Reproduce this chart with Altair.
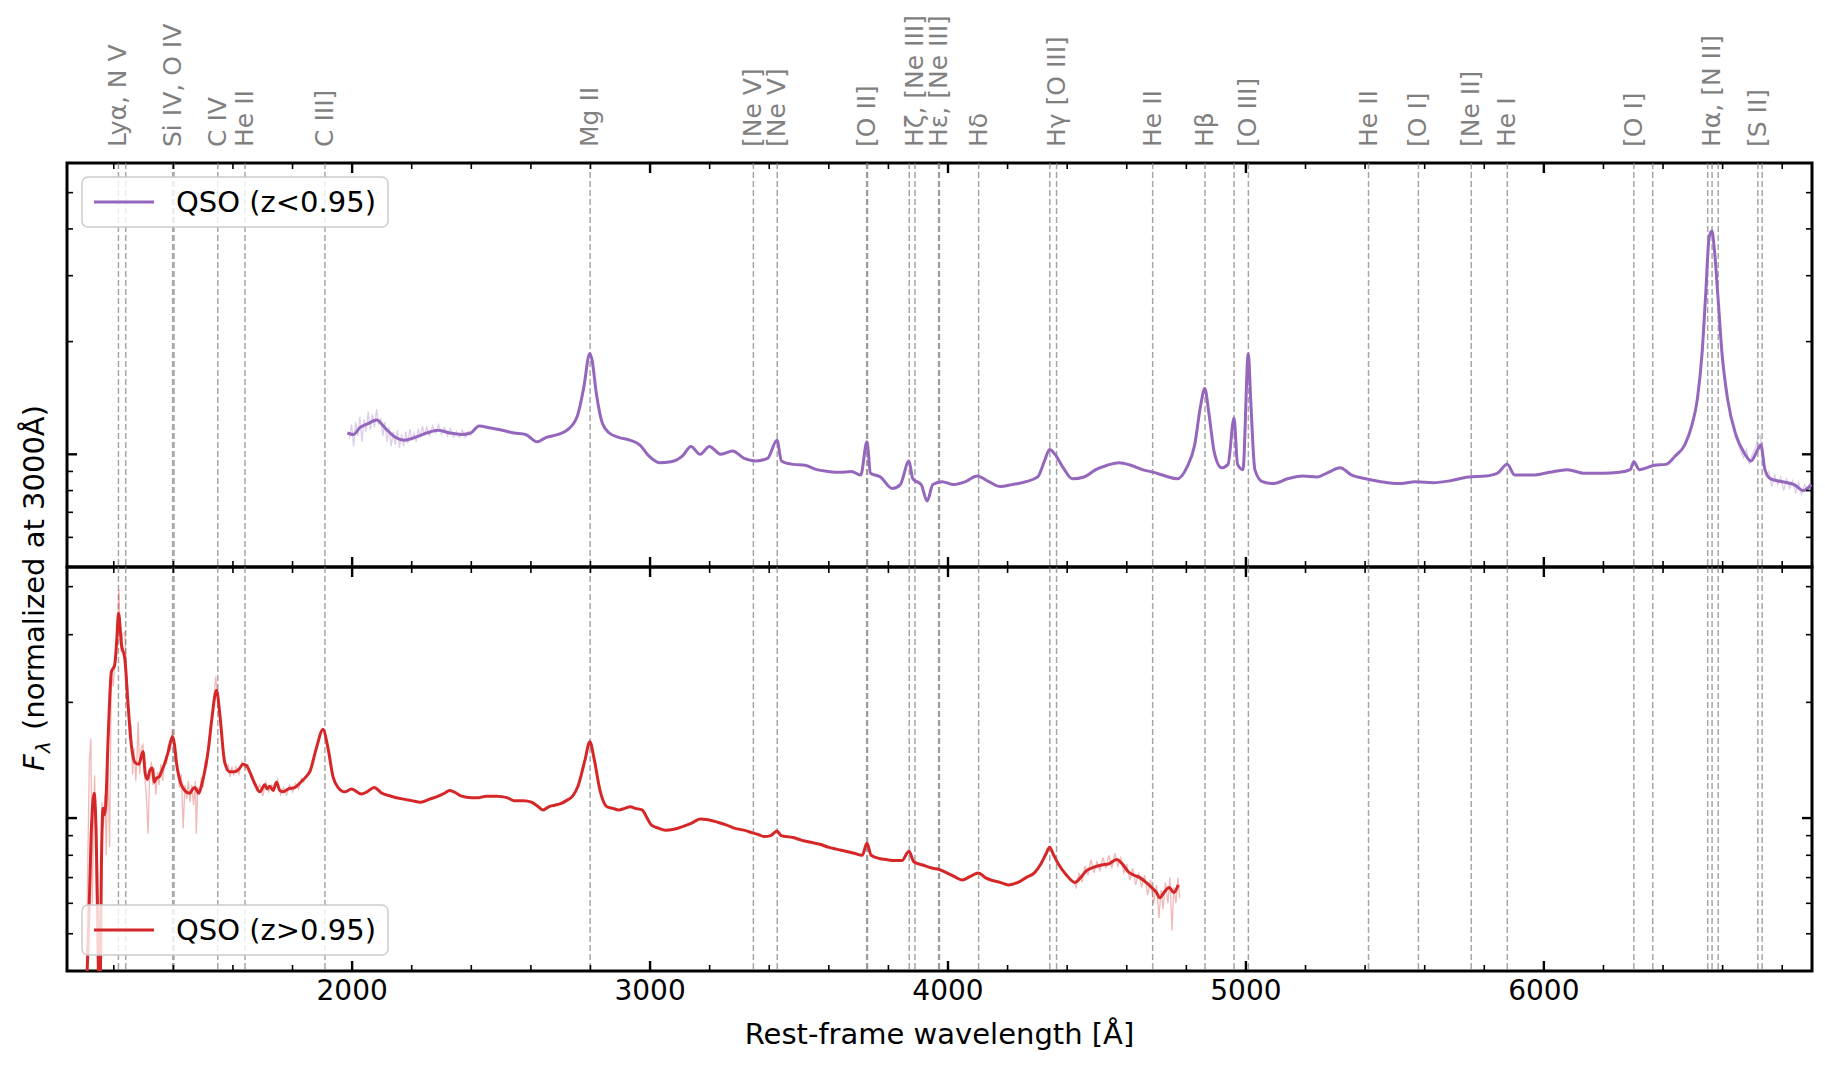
import altair as alt
import pandas as pd

# ---------------- data ----------------
# upper panel: QSO (z<0.95), smoothed spectrum
top_w = [1984, 2004, 2027, 2055, 2082, 2113, 2145, 2176, 2211, 2250,
         2289, 2328, 2367, 2398, 2426, 2465, 2504, 2543, 2582, 2621,
         2652, 2691, 2730, 2758, 2777, 2798, 2805, 2820, 2840, 2863,
         2895, 2934, 2965, 2996, 3031, 3070, 3109, 3137, 3168, 3199,
         3238, 3277, 3316, 3355, 3394, 3426, 3441, 3480, 3520, 3559,
         3598, 3637, 3676, 3707, 3728, 3740, 3773, 3813, 3840, 3869,
         3882, 3910, 3930, 3949, 3980, 4019, 4059, 4098, 4137, 4176,
         4215, 4262, 4301, 4324, 4341, 4359, 4387, 4418, 4457, 4496,
         4535, 4574, 4613, 4652, 4691, 4730, 4769, 4801, 4828, 4848,
         4862, 4875, 4894, 4918, 4940, 4960, 4972, 4990, 5008, 5016,
         5030, 5055, 5090, 5140, 5191, 5238, 5277, 5316, 5355, 5402,
         5453, 5512, 5570, 5629, 5687, 5746, 5805, 5844, 5877, 5902,
         5961, 6019, 6078, 6137, 6195, 6254, 6290, 6302, 6320, 6371,
         6410, 6441, 6473, 6496, 6515, 6531, 6543, 6555, 6564, 6572,
         6584, 6598, 6617, 6644, 6672, 6695, 6718, 6728, 6742, 6761,
         6800, 6840, 6871, 6898]
top_f = [1.14, 1.13, 1.18, 1.21, 1.235, 1.17, 1.11, 1.09, 1.11, 1.14,
         1.16, 1.14, 1.13, 1.14, 1.19, 1.175, 1.16, 1.14, 1.13, 1.08,
         1.11, 1.13, 1.175, 1.28, 1.50, 1.86, 1.79, 1.45, 1.21, 1.14,
         1.11, 1.09, 1.06, 0.99, 0.95, 0.955, 0.99, 1.05, 1.00, 1.05,
         1.00, 1.02, 0.975, 0.96, 0.975, 1.09, 0.96, 0.94, 0.935, 0.91,
         0.90, 0.895, 0.90, 0.88, 1.08, 0.89, 0.87, 0.81, 0.83, 0.96,
         0.86, 0.83, 0.75, 0.83, 0.845, 0.83, 0.845, 0.875, 0.845, 0.82,
         0.83, 0.845, 0.87, 0.96, 1.03, 1.00, 0.92, 0.86, 0.87, 0.91,
         0.935, 0.95, 0.935, 0.91, 0.895, 0.875, 0.86, 0.92, 1.06, 1.35,
         1.50, 1.30, 1.01, 0.92, 0.94, 1.25, 0.94, 0.91, 1.86, 1.40,
         0.91, 0.845, 0.835, 0.86, 0.875, 0.87, 0.895, 0.92, 0.88, 0.86,
         0.845, 0.835, 0.845, 0.84, 0.85, 0.87, 0.875, 0.89, 0.94, 0.88,
         0.88, 0.895, 0.91, 0.89, 0.89, 0.895, 0.91, 0.955, 0.91, 0.935,
         0.94, 0.99, 1.06, 1.19, 1.40, 1.86, 2.66, 3.81, 3.95, 3.55,
         2.66, 1.86, 1.40, 1.13, 1.01, 0.96, 1.03, 1.06, 0.91, 0.86,
         0.845, 0.83, 0.80, 0.83]

# upper panel: unsmoothed (faint) segments
top_raw_a_w = [1990, 1998, 2005, 2012, 2019, 2026, 2033, 2040, 2047, 2054,
               2061, 2068, 2075, 2082, 2089, 2096, 2103, 2110, 2117, 2124,
               2131, 2138, 2145, 2152, 2159, 2166, 2173, 2180, 2187, 2194,
               2201, 2208, 2215, 2222, 2229, 2236, 2243, 2250, 2260, 2270,
               2280, 2290, 2300, 2310, 2320, 2330, 2340, 2350, 2360, 2370,
               2380, 2390, 2400]
top_raw_a_f = [1.10, 1.20, 1.05, 1.22, 1.12, 1.26, 1.08, 1.24, 1.15, 1.30,
               1.16, 1.28, 1.18, 1.32, 1.20, 1.25, 1.12, 1.22, 1.08, 1.18,
               1.05, 1.15, 1.06, 1.16, 1.04, 1.13, 1.05, 1.15, 1.07, 1.17,
               1.09, 1.14, 1.08, 1.17, 1.11, 1.19, 1.12, 1.18, 1.12, 1.19,
               1.14, 1.20, 1.13, 1.18, 1.12, 1.17, 1.11, 1.15, 1.11, 1.16,
               1.11, 1.15, 1.12]
top_raw_b_w = [6640, 6650, 6660, 6670, 6680, 6690, 6700, 6710, 6718, 6726,
               6735, 6745, 6755, 6765, 6775, 6785, 6795, 6805, 6815, 6825,
               6835, 6845, 6855, 6865, 6875, 6885, 6895]
top_raw_b_f = [1.12, 1.08, 1.02, 0.98, 1.03, 0.94, 1.00, 1.04, 1.10, 1.12,
               1.00, 0.88, 0.90, 0.82, 0.88, 0.83, 0.87, 0.80, 0.86, 0.81,
               0.85, 0.79, 0.84, 0.78, 0.83, 0.80, 0.84]

# lower panel: QSO (z>0.95), smoothed spectrum
bot_w = [1105, 1115, 1124, 1134, 1141, 1147, 1153, 1159, 1164, 1169,
         1173, 1181, 1192, 1203, 1210, 1216, 1226, 1237, 1248, 1259,
         1270, 1284, 1298, 1306, 1313, 1321, 1329, 1336, 1343, 1352,
         1360, 1370, 1382, 1397, 1404, 1410, 1421, 1438, 1455, 1465,
         1472, 1485, 1495, 1505, 1518, 1528, 1545, 1556, 1572, 1589,
         1606, 1620, 1634, 1645, 1656, 1673, 1690, 1707, 1715, 1723,
         1735, 1746, 1757, 1768, 1785, 1807, 1830, 1845, 1858, 1880,
         1902, 1919, 1936, 1953, 1975, 1998, 2031, 2050, 2074, 2100,
         2130, 2172, 2200, 2230, 2260, 2289, 2310, 2328, 2350, 2367,
         2400, 2426, 2450, 2484, 2520, 2543, 2575, 2602, 2625, 2641,
         2660, 2680, 2700, 2719, 2740, 2758, 2781, 2798, 2812, 2832,
         2855, 2875, 2895, 2915, 2934, 2950, 2973, 2990, 3004, 3030,
         3051, 3080, 3109, 3140, 3168, 3195, 3227, 3255, 3285, 3315,
         3344, 3365, 3383, 3405, 3426, 3440, 3480, 3510, 3539, 3570,
         3598, 3625, 3656, 3685, 3712, 3728, 3742, 3770, 3793, 3820,
         3845, 3869, 3885, 3915, 3949, 3970, 3996, 4020, 4047, 4075,
         4102, 4125, 4144, 4175, 4203, 4235, 4262, 4290, 4312, 4330,
         4341, 4355, 4370, 4398, 4426, 4445, 4465, 4490, 4516, 4540,
         4566, 4585, 4605, 4625, 4644, 4665, 4683, 4700, 4711, 4725,
         4742, 4758, 4773]
bot_f = [0.30, 0.50, 0.90, 1.16, 0.90, 0.50, 0.30, 0.80, 1.06, 1.02,
         1.08, 1.61, 2.40, 2.50, 2.90, 3.41, 2.82, 2.60, 1.97, 1.55,
         1.40, 1.38, 1.49, 1.30, 1.26, 1.33, 1.35, 1.24, 1.27, 1.28,
         1.32, 1.38, 1.48, 1.63, 1.55, 1.40, 1.26, 1.18, 1.16, 1.19,
         1.20, 1.16, 1.22, 1.32, 1.52, 1.78, 2.15, 1.86, 1.40, 1.32,
         1.32, 1.34, 1.38, 1.37, 1.32, 1.23, 1.17, 1.22, 1.19, 1.21,
         1.18, 1.24, 1.18, 1.17, 1.19, 1.20, 1.245, 1.28, 1.32, 1.52,
         1.70, 1.52, 1.28, 1.20, 1.17, 1.19, 1.155, 1.17, 1.20, 1.16,
         1.14, 1.12, 1.11, 1.10, 1.12, 1.14, 1.16, 1.18, 1.16, 1.14,
         1.13, 1.13, 1.14, 1.14, 1.13, 1.11, 1.11, 1.10, 1.07, 1.05,
         1.07, 1.08, 1.09, 1.11, 1.14, 1.21, 1.41, 1.58, 1.43, 1.18,
         1.07, 1.06, 1.05, 1.06, 1.07, 1.06, 1.05, 1.00, 0.96, 0.94,
         0.93, 0.935, 0.95, 0.97, 0.995, 0.99, 0.975, 0.96, 0.94, 0.93,
         0.915, 0.905, 0.895, 0.90, 0.925, 0.90, 0.89, 0.875, 0.865, 0.855,
         0.84, 0.83, 0.82, 0.81, 0.80, 0.86, 0.80, 0.785, 0.78, 0.775,
         0.775, 0.82, 0.77, 0.755, 0.74, 0.735, 0.72, 0.705, 0.69, 0.705,
         0.72, 0.70, 0.69, 0.68, 0.67, 0.68, 0.70, 0.72, 0.76, 0.81,
         0.84, 0.80, 0.76, 0.71, 0.68, 0.70, 0.73, 0.745, 0.755, 0.76,
         0.78, 0.76, 0.725, 0.71, 0.70, 0.68, 0.66, 0.64, 0.62, 0.64,
         0.66, 0.64, 0.67]

# lower panel: unsmoothed (faint) segments
bot_raw_a_w = [1108, 1112, 1118, 1123, 1128, 1132, 1136, 1140, 1145, 1150,
               1156, 1160, 1165, 1170, 1175, 1180, 1186, 1192, 1198, 1204,
               1209, 1213, 1217, 1221, 1224, 1230, 1237, 1243, 1248, 1253,
               1258, 1263, 1268, 1274, 1278, 1282, 1287, 1292, 1298, 1303,
               1309, 1315, 1320, 1326, 1331, 1336, 1341, 1347, 1352, 1358,
               1364, 1370, 1377, 1383, 1390, 1397, 1403, 1409, 1415, 1421,
               1427, 1433, 1439, 1445, 1450, 1456, 1462, 1468, 1474, 1477,
               1482, 1488, 1494, 1500, 1506, 1512, 1518, 1524, 1530, 1536,
               1542, 1548, 1554, 1560, 1566, 1572, 1578, 1584, 1590, 1596,
               1602, 1610, 1620, 1630, 1640, 1650, 1660, 1670, 1680, 1690,
               1700, 1710, 1720, 1730, 1740, 1750, 1760, 1770, 1780, 1790,
               1800, 1810, 1820, 1830, 1840]
bot_raw_a_f = [0.30, 0.70, 1.40, 1.61, 0.60, 1.05, 1.29, 0.70, 0.35, 0.32,
               0.45, 1.10, 0.95, 1.15, 0.80, 1.45, 0.84, 2.40, 2.20, 2.55,
               2.82, 3.20, 3.93, 3.10, 2.70, 3.00, 3.05, 2.40, 2.10, 1.60,
               1.75, 1.30, 1.52, 1.25, 1.45, 1.78, 1.30, 1.52, 1.55, 1.30,
               1.15, 0.91, 1.25, 1.40, 1.22, 1.35, 1.15, 1.32, 1.22, 1.38,
               1.25, 1.42, 1.38, 1.55, 1.50, 1.70, 1.50, 1.45, 1.30, 1.20,
               1.30, 0.94, 1.22, 1.12, 1.25, 1.10, 1.22, 1.08, 1.25, 0.91,
               1.20, 1.15, 1.28, 1.20, 1.40, 1.35, 1.58, 1.70, 1.85, 2.05,
               2.33, 2.10, 1.95, 1.70, 1.52, 1.45, 1.32, 1.38, 1.28, 1.36,
               1.30, 1.36, 1.30, 1.40, 1.35, 1.38, 1.28, 1.25, 1.18, 1.22,
               1.14, 1.24, 1.17, 1.22, 1.20, 1.26, 1.15, 1.20, 1.15, 1.22,
               1.17, 1.23, 1.19, 1.27, 1.24]
bot_raw_b_w = [4420, 4430, 4440, 4450, 4460, 4470, 4480, 4490, 4500, 4510,
               4520, 4530, 4540, 4550, 4560, 4570, 4580, 4590, 4600, 4610,
               4620, 4630, 4640, 4650, 4660, 4670, 4680, 4690, 4700, 4708,
               4715, 4722, 4730, 4738, 4745, 4752, 4758, 4765, 4772, 4778]
bot_raw_b_f = [0.69, 0.66, 0.72, 0.68, 0.75, 0.71, 0.78, 0.72, 0.77, 0.73,
               0.79, 0.74, 0.80, 0.74, 0.81, 0.75, 0.79, 0.72, 0.76, 0.69,
               0.74, 0.67, 0.72, 0.66, 0.71, 0.63, 0.69, 0.60, 0.67, 0.55,
               0.65, 0.58, 0.68, 0.60, 0.70, 0.51, 0.66, 0.60, 0.70, 0.62]

# emission lines (rest wavelengths) and their labels
line_w = [1215.67, 1240.14, 1397.61, 1402.06, 1549.06, 1640.42, 1908.73,
          2798.75, 3346.79, 3426.84, 3727.09, 3729.88, 3869.85, 3889.05,
          3968.59, 3971.20, 4102.89, 4341.68, 4364.44, 4687.02, 4862.68,
          4960.30, 5008.24, 5411.52, 5578.89, 5756.19, 5877.29, 6302.05,
          6365.54, 6549.86, 6564.61, 6585.27, 6718.29, 6732.67]
label_text = ["Lyα, N V", "Si IV, O IV", "C IV", "He II", "C III]", "Mg II",
              "[Ne V]", "[Ne V]", "[O II]", "Hζ, [Ne III]", "Hε, [Ne III]",
              "Hδ", "Hγ [O III]", "He II", "Hβ", "[O III]", "He II", "[O I]",
              "[Ne II]", "He I", "[O I]", "Hα, [N II]", "[S II]"]
label_w = [1215.67, 1397.61, 1549.06, 1640.42, 1908.73, 2798.75, 3346.79,
           3426.84, 3727.09, 3889.05, 3968.59, 4102.89, 4364.44, 4687.02,
           4862.68, 5008.24, 5411.52, 5578.89, 5756.19, 5877.29, 6302.05,
           6564.61, 6718.29]

# ticks and text
x_major = [2000, 3000, 4000, 5000, 6000]
x_major_text = ["2000", "3000", "4000", "5000", "6000"]
x_minor = [v for v in range(1200, 6900, 200) if v % 1000 != 0]
top_y_major = [1.0]
top_y_minor = [0.6, 0.7, 0.8, 0.9, 2, 3, 4, 5]
bot_y_major = [1.0]
bot_y_minor = [0.5, 0.6, 0.7, 0.8, 0.9, 2, 3, 4]
x_title = "Rest-frame wavelength [Å]"
top_name = "QSO (z<0.95)"
bot_name = "QSO (z>0.95)"

# ---------------- styling ----------------
W, H = 1745, 404
X_DOMAIN = [1043, 6900]
TOP_DOMAIN = [0.5, 6.0]
BOT_DOMAIN = [0.4, 4.5]
PURPLE = "#9467bd"
RED = "#d62728"
FONT = "DejaVu Sans"


def xsc():
    return alt.Scale(domain=X_DOMAIN, nice=False, zero=False)


def one(s):
    return pd.DataFrame({"t": [s]})


def panel(sm_w, sm_f, raws, ydom, color, name, ymaj, ymin, leg_y, is_top):
    def ysc():
        return alt.Scale(type="log", domain=ydom, nice=False)

    def X():
        return alt.X("w:Q", scale=xsc(), axis=None)

    def Y():
        return alt.Y("f:Q", scale=ysc(), axis=None)

    layers = []
    # dashed emission-line markers
    layers.append(
        alt.Chart(pd.DataFrame({"w": line_w}))
        .mark_rule(color="gray", opacity=0.7, strokeWidth=1.5, strokeDash=[6, 3])
        .encode(x=X())
    )
    # faint raw spectrum
    rows = []
    for k, (rw, rf) in enumerate(raws):
        for a, b in zip(rw, rf):
            rows.append({"w": a, "f": b, "seg": k})
    layers.append(
        alt.Chart(pd.DataFrame(rows))
        .mark_line(color=color, opacity=0.33, strokeWidth=1.3, clip=True)
        .encode(x=X(), y=Y(), detail="seg:N")
    )
    # smoothed spectrum
    layers.append(
        alt.Chart(pd.DataFrame({"w": sm_w, "f": sm_f}))
        .mark_line(color=color, strokeWidth=3, clip=True, interpolate="monotone")
        .encode(x=X(), y=Y())
    )
    # inward ticks on all four sides
    for vals, ln, sw in [(x_major, 10, 2.4), (x_minor, 6, 1.6)]:
        base = alt.Chart(pd.DataFrame({"w": vals})).mark_rule(color="black", strokeWidth=sw)
        layers.append(base.encode(x=X(), y=alt.value(H), y2=alt.value(H - ln)))
        layers.append(base.encode(x=X(), y=alt.value(0), y2=alt.value(ln)))
    for vals, ln, sw in [(ymaj, 10, 2.4), (ymin, 6, 1.6)]:
        base = alt.Chart(pd.DataFrame({"f": vals})).mark_rule(color="black", strokeWidth=sw)
        layers.append(base.encode(y=Y(), x=alt.value(0), x2=alt.value(ln)))
        layers.append(base.encode(y=Y(), x=alt.value(W - ln), x2=alt.value(W)))

    # legend box
    layers.append(
        alt.Chart(one(name))
        .mark_rect(fill="white", fillOpacity=0.8, stroke="#cccccc", strokeWidth=1.5,
                   cornerRadius=6)
        .encode(x=alt.value(15), x2=alt.value(321), y=alt.value(leg_y), y2=alt.value(leg_y + 50))
    )
    layers.append(
        alt.Chart(one(name))
        .mark_rule(color=color, strokeWidth=2.8)
        .encode(x=alt.value(27), x2=alt.value(87), y=alt.value(leg_y + 25), y2=alt.value(leg_y + 25))
    )
    layers.append(
        alt.Chart(one(name))
        .mark_text(align="left", baseline="middle", fontSize=29, font=FONT, color="black")
        .encode(x=alt.value(109), y=alt.value(leg_y + 26), text="t:N")
    )

    if is_top:
        # emission line names above the upper panel
        layers.append(
            alt.Chart(pd.DataFrame({"w": label_w, "t": label_text}))
            .mark_text(angle=270, align="left", baseline="middle", fontSize=25,
                       color="gray", font=FONT)
            .encode(x=X(), y=alt.value(-16), text="t:N")
        )
        # layout anchor (fixes the page offset of the plot area)
        layers.append(
            alt.Chart(one(""))
            .mark_rule(color="white", strokeWidth=0.5)
            .encode(x=alt.value(-57), x2=alt.value(-56.5), y=alt.value(-153), y2=alt.value(-153))
        )
    else:
        # x tick labels and x title
        layers.append(
            alt.Chart(pd.DataFrame({"w": x_major, "t": x_major_text}))
            .mark_text(align="center", baseline="top", fontSize=28, font=FONT, color="black")
            .encode(x=X(), y=alt.value(H + 7), text="t:N")
        )
        layers.append(
            alt.Chart(one(x_title))
            .mark_text(align="center", baseline="top", fontSize=29, font=FONT, color="black")
            .encode(x=alt.value(W / 2), y=alt.value(H + 50), text="t:N")
        )

        # shared y-axis title: F_lambda (normalized at 3000Å)
        def txt(s, x, y, size, style):
            return (
                alt.Chart(one(s))
                .mark_text(angle=270, align="left", baseline="alphabetic",
                           fontSize=size, fontStyle=style, font=FONT, color="black")
                .encode(x=alt.value(x), y=alt.value(y), text="t:N")
            )
        layers.append(txt("F", -23, 204, 29, "italic"))
        layers.append(txt("λ", -17, 186, 20, "italic"))
        layers.append(txt("(normalized at 3000Å)", -23, 163, 29, "normal"))

    return alt.layer(*layers).properties(width=W, height=H)


top = panel(top_w, top_f, [(top_raw_a_w, top_raw_a_f), (top_raw_b_w, top_raw_b_f)],
            TOP_DOMAIN, PURPLE, top_name, top_y_major, top_y_minor, 14, True)
bot = panel(bot_w, bot_f, [(bot_raw_a_w, bot_raw_a_f), (bot_raw_b_w, bot_raw_b_f)],
            BOT_DOMAIN, RED, bot_name, bot_y_major, bot_y_minor, 338, False)

chart = (
    alt.vconcat(top, bot, spacing=0, bounds="flush", padding=0)
    .resolve_scale(x="independent", y="independent")
    .configure(font=FONT)
    .configure_view(stroke="black", strokeWidth=3)
)

chart.save("out.html", embed_options={"renderer": "svg", "actions": False})
